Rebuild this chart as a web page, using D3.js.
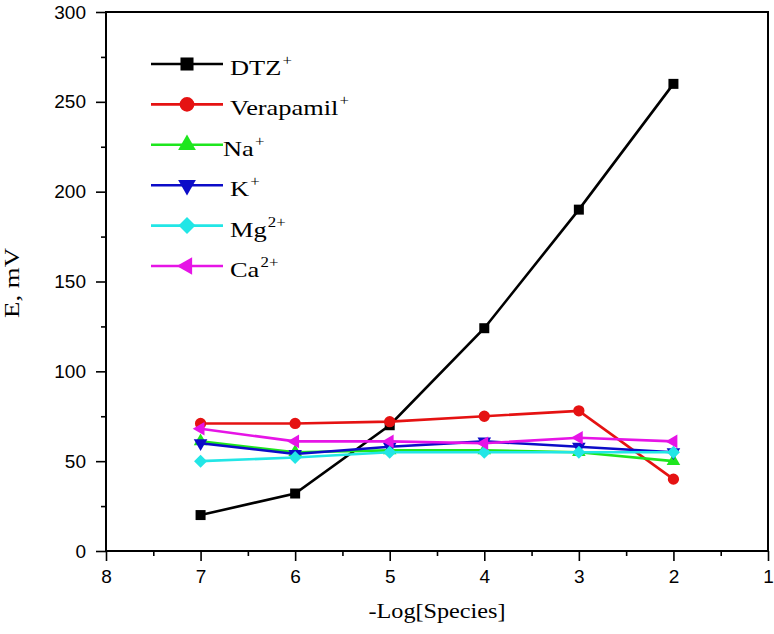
<!DOCTYPE html>
<html>
<head>
<meta charset="utf-8">
<script src="https://cdn.jsdelivr.net/npm/d3@7"></script>
<style>
  body { margin: 0; background: #fff; }
  svg { display: block; }
</style>
</head>
<body>
<div class="chart-container"></div>
<script>
// x values are -log[species]
const logConc = [7, 6, 5, 4, 3, 2];

const dtz       = [20, 32, 70, 124, 190, 260];
const verapamil = [71, 71, 72, 75, 78, 40];
const sodium    = [61, 55, 56, 56, 55, 50];
const potassium = [60, 54, 58, 61, 58, 55];
const magnesium = [50, 52, 55, 55, 55, 55];
const calcium   = [68, 61, 61, 60, 63, 61];

const seriesNames = ['DTZ', 'Verapamil', 'Na', 'K', 'Mg', 'Ca'];
const seriesCharges = ['+', '+', '+', '+', '2+', '2+'];

const xTicks = [8, 7, 6, 5, 4, 3, 2, 1];
const yTicks = [0, 50, 100, 150, 200, 250, 300];

const width = 774, height = 634;
const serif = "'Liberation Serif', 'Times New Roman', serif";
const sans = "'Liberation Sans', Arial, sans-serif";

// marker look per series (drawing only)
const styles = [
  { color: '#000000', type: d3.symbolSquare,   size: 100, rot: 0 },
  { color: '#e51212', type: d3.symbolCircle,   size: 100, rot: 0 },
  { color: '#1ee61e', type: d3.symbolTriangle, size: 80,  rot: 0 },
  { color: '#0c0cc8', type: d3.symbolTriangle, size: 80,  rot: 180 },
  { color: '#22e6e6', type: d3.symbolSquare,   size: 85,  rot: 45 },
  { color: '#e614e6', type: d3.symbolTriangle, size: 80,  rot: -90 }
];

const allSeries = [dtz, verapamil, sodium, potassium, magnesium, calcium];

const svg = d3.select('.chart-container')
  .append('svg')
  .attr('width', width)
  .attr('height', height);

const x = d3.scaleLinear().domain([8, 1]).range([106, 768]);
const y = d3.scaleLinear().domain([0, 300]).range([551, 12]);

// axes: major + minor ticks pointing outwards
const xMinor = d3.range(1.5, 8, 1);
const yMinor = d3.range(25, 300, 50);

svg.append('g')
  .attr('transform', `translate(0,${y(0)})`)
  .call(d3.axisBottom(x).tickValues(xMinor).tickSize(5).tickFormat(''))
  .call(g => g.select('.domain').remove())
  .call(g => g.selectAll('line').attr('stroke-width', 1.6));

svg.append('g')
  .attr('transform', `translate(0,${y(0)})`)
  .call(d3.axisBottom(x).tickValues(xTicks).tickSize(10).tickPadding(9).tickFormat(d3.format('d')))
  .call(g => g.select('.domain').remove())
  .call(g => g.selectAll('line').attr('stroke-width', 1.6))
  .call(g => g.selectAll('text')
    .attr('font-family', sans)
    .attr('font-size', 19)
    .attr('fill', '#000'));

svg.append('g')
  .attr('transform', `translate(${x(8)},0)`)
  .call(d3.axisLeft(y).tickValues(yMinor).tickSize(5).tickFormat(''))
  .call(g => g.select('.domain').remove())
  .call(g => g.selectAll('line').attr('stroke-width', 1.6));

svg.append('g')
  .attr('transform', `translate(${x(8)},0)`)
  .call(d3.axisLeft(y).tickValues(yTicks).tickSize(10).tickPadding(10).tickFormat(d3.format('d')))
  .call(g => g.select('.domain').remove())
  .call(g => g.selectAll('line').attr('stroke-width', 1.6))
  .call(g => g.selectAll('text')
    .attr('font-family', sans)
    .attr('font-size', 19)
    .attr('fill', '#000'));

// frame
svg.append('rect')
  .attr('x', x(8))
  .attr('y', y(300))
  .attr('width', x(1) - x(8))
  .attr('height', y(0) - y(300))
  .attr('fill', 'none')
  .attr('stroke', '#000')
  .attr('stroke-width', 2);

// axis titles
svg.append('text')
  .attr('transform', `translate(437,618) scale(1.1,1)`)
  .attr('text-anchor', 'middle')
  .attr('font-family', serif)
  .attr('font-size', 22)
  .text('-Log[Species]');

svg.append('text')
  .attr('transform', `translate(19,283) rotate(-90) scale(1.22,1)`)
  .attr('text-anchor', 'middle')
  .attr('font-family', serif)
  .attr('font-size', 22)
  .text('E, mV');

// series
const line = d3.line()
  .x((d, i) => x(logConc[i]))
  .y(d => y(d));

allSeries.forEach((vals, s) => {
  const st = styles[s];
  const g = svg.append('g').attr('class', 'series');

  g.append('path')
    .datum(vals)
    .attr('d', line)
    .attr('fill', 'none')
    .attr('stroke', st.color)
    .attr('stroke-width', 2.6);

  g.selectAll('.marker')
    .data(vals)
    .enter().append('path')
    .attr('class', 'marker')
    .attr('d', d3.symbol().type(st.type).size(st.size))
    .attr('transform', (d, i) => `translate(${x(logConc[i])},${y(d)}) rotate(${st.rot})`)
    .attr('fill', st.color);
});

// legend
const legend = svg.append('g').attr('class', 'legend');
seriesNames.forEach((name, s) => {
  const st = styles[s];
  const ly = 64 + s * 40.4;
  legend.append('line')
    .attr('x1', 151).attr('x2', 223)
    .attr('y1', ly).attr('y2', ly)
    .attr('stroke', st.color)
    .attr('stroke-width', 2.6);
  legend.append('path')
    .attr('d', d3.symbol().type(st.type).size(st.size * 1.7))
    .attr('transform', `translate(187,${ly}) rotate(${st.rot})`)
    .attr('fill', st.color);

  const t = legend.append('text')
    .attr('transform', `translate(${s === 2 ? 223 : 230},${ly + 11}) scale(1.2,1)`)
    .attr('font-family', serif)
    .attr('font-size', 22);
  t.append('tspan').text(name);
  t.append('tspan')
    .attr('dy', -10)
    .attr('dx', 1)
    .attr('font-size', 14)
    .text(seriesCharges[s]);
});
</script>
</body>
</html>
